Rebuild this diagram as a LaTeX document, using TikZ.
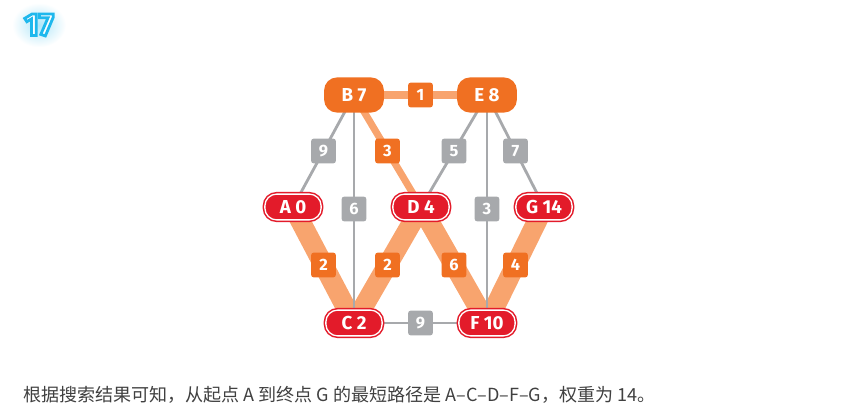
\documentclass[tikz,border=0pt]{standalone}
\usepackage{fontspec}
\setsansfont{Fira Sans}
\newfontfamily\cjk{Noto Sans CJK SC}
\usetikzlibrary{backgrounds}

% Testo con contorno (riempimento bianco, bordo ciano)
\newcommand{\contornato}[1]{\special{pdf:literal direct 0.12 0.72 0.93 RG 2 Tr 2.4 w}#1\special{pdf:literal direct 0 Tr}}

\begin{document}
\begin{tikzpicture}[x=0.03cm,y=-0.03cm,
  nodoArancio/.style={fill=colArancio, rounded corners=11pt, minimum width=51pt,
    minimum height=30pt, inner sep=0pt, text=white,
    font=\sffamily\bfseries\fontsize{16}{16}\selectfont},
  nodoRosso/.style={fill=colRosso, draw=colRosso, double=white, double distance=1.1pt,
    line width=1.3pt, rounded corners=10pt, minimum width=48pt, minimum height=22pt,
    inner sep=0pt, text=white, font=\sffamily\bfseries\fontsize{16}{16}\selectfont},
  pesoGrigio/.style={fill=colGrigio, rounded corners=2pt, minimum size=21pt,
    inner sep=0pt, text=white, font=\sffamily\bfseries\fontsize{14}{14}\selectfont},
  pesoArancio/.style={pesoGrigio, fill=colArancio},
  arcoGrigio/.style={draw=colGrigio, line width=2.4pt},
  arcoMedio/.style={draw=colChiaro, line width=6pt},
  arcoLargo/.style={draw=colChiaro, line width=17pt}]

% Colori
\definecolor{colArancio}{HTML}{F07022}
\definecolor{colChiaro}{HTML}{F8A46E}
\definecolor{colRosso}{HTML}{E31B2A}
\definecolor{colGrigio}{HTML}{A7A9AC}
\definecolor{colCiano}{HTML}{1FB8EC}
\definecolor{colTesto}{HTML}{404040}

\useasboundingbox (0,0) rectangle (859,418);

% Titolo con alone
\shade[inner color=colCiano!35, outer color=white]
  (39,25) ellipse [x radius=23pt, y radius=19pt];
\node[text=white, font=\sffamily\bfseries\fontsize{27}{27}\selectfont] (titolo) at (39,25) {\contornato{17}};

% Nodi
\node[nodoArancio] (B) at (354,95) {B 7};
\node[nodoArancio] (E) at (487,95) {E 8};
\node[nodoRosso] (A) at (293,207) {A 0};
\node[nodoRosso] (D) at (421,207) {D 4};
\node[nodoRosso] (G) at (544,207) {G 14};
\node[nodoRosso] (C) at (354,323) {C 2};
\node[nodoRosso] (F) at (487,323) {F 10};

\begin{scope}[on background layer]
% Percorso minimo
\draw[arcoLargo] (A.center) -- node[pesoArancio] (pAC) {2} (C.center);
\draw[arcoLargo] (D.center) -- node[pesoArancio] (pDC) {2} (C.center);
\draw[arcoLargo] (D.center) -- node[pesoArancio] (pDF) {6} (F.center);
\draw[arcoLargo] (G.center) -- node[pesoArancio] (pGF) {4} (F.center);
\draw[arcoMedio] (B.center) -- node[pesoArancio] (pBE) {1} (E.center);
\draw[arcoMedio] (B.center) -- node[pesoArancio] (pBD) {3} (D.center);

% Altri archi
\draw[arcoGrigio] (B.center) -- node[pesoGrigio] (pBA) {9} (A.center);
\draw[arcoGrigio] (B.center) -- node[pesoGrigio] (pBC) {6} (C.center);
\draw[arcoGrigio] (E.center) -- node[pesoGrigio] (pED) {5} (D.center);
\draw[arcoGrigio] (E.center) -- node[pesoGrigio] (pEF) {3} (F.center);
\draw[arcoGrigio] (E.center) -- node[pesoGrigio] (pEG) {7} (G.center);
\draw[arcoGrigio] (C.center) -- node[pesoGrigio] (pCF) {9} (F.center);
\end{scope}

% Nota
\node[anchor=west, inner sep=0pt, text=colTesto, font=\cjk\fontsize{15.4}{18}\selectfont]
  (nota) at (23,395) {根据搜索结果可知，从起点 A 到终点 G 的最短路径是 A–C–D–F–G，权重为 14。};

\end{tikzpicture}
\end{document}
